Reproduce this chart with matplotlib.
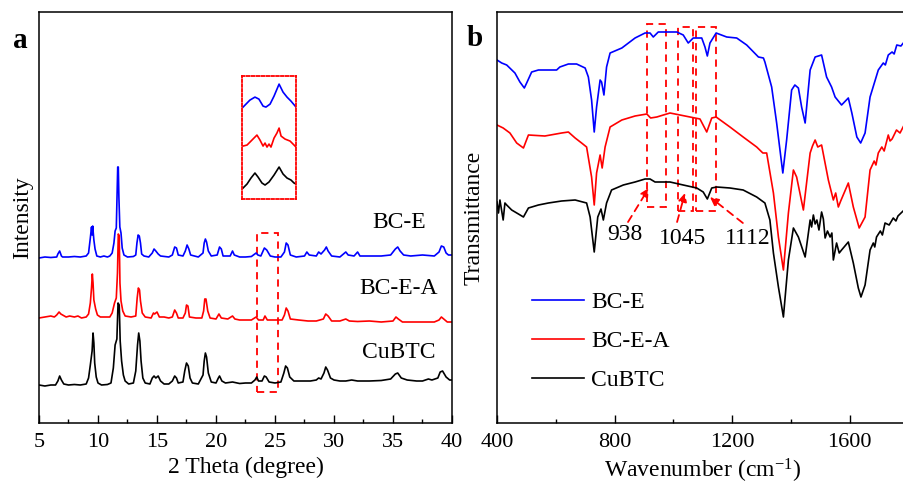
import numpy as np
import matplotlib
matplotlib.use("Agg")
import matplotlib.pyplot as plt
from matplotlib.patches import Rectangle

plt.rcParams["font.family"] = ["Liberation Serif", "DejaVu Serif"]
plt.rcParams["mathtext.fontset"] = "custom"
plt.rcParams["mathtext.rm"] = "Liberation Serif"

# ---------------- XRD patterns (2 theta in degrees, stacked intensity) ----------------
xrd_bce = [
    (5.0, 165), (5.5, 166), (6.0, 165.5), (6.5, 166), (6.6, 169), (6.75, 172), (6.9, 167),
    (7.0, 166), (7.5, 166), (8.0, 166.5), (8.5, 166), (9.0, 167), (9.2, 170), (9.35, 185),
    (9.45, 196), (9.5, 188), (9.55, 197), (9.65, 183), (9.75, 174), (9.9, 167), (10.2, 166),
    (10.5, 167), (10.8, 166), (11.0, 167), (11.2, 170), (11.35, 180), (11.45, 192),
    (11.55, 195), (11.62, 230), (11.67, 256), (11.72, 256), (11.77, 226), (11.85, 196),
    (11.95, 190), (12.05, 175), (12.2, 168), (12.5, 166), (13.0, 166.5), (13.2, 168),
    (13.3, 180), (13.4, 188), (13.5, 187), (13.6, 180), (13.7, 169), (13.9, 167), (14.3, 166),
    (14.6, 170), (14.75, 174), (14.9, 172), (15.1, 169), (15.3, 167), (16.0, 166), (16.3, 168),
    (16.5, 176), (16.65, 175), (16.8, 168), (17.2, 167), (17.4, 172), (17.55, 178), (17.7, 174),
    (17.85, 168), (18.5, 166), (18.9, 170), (19.0, 180), (19.1, 184), (19.2, 181), (19.35, 172),
    (19.6, 167), (20.1, 168), (20.3, 176), (20.45, 174), (20.6, 167), (21.2, 167), (21.4, 172),
    (21.55, 168), (22.0, 166), (22.5, 166), (23.0, 166.5), (23.4, 170), (23.55, 168), (23.8, 167),
    (24.1, 175), (24.3, 173), (24.6, 167), (25.0, 166), (25.5, 166), (25.8, 171), (25.95, 180),
    (26.1, 178), (26.3, 168), (26.8, 166), (27.5, 167), (27.7, 171), (27.9, 168), (28.5, 167),
    (28.7, 171), (28.9, 169), (29.2, 173), (29.35, 176), (29.5, 172), (29.8, 167), (30.5, 166),
    (31.0, 171), (31.2, 168), (31.7, 167), (32.0, 171), (32.2, 167), (33.0, 167), (34.0, 167),
    (34.8, 168), (35.2, 174), (35.4, 176), (35.6, 172), (35.9, 168), (36.5, 167), (37.5, 168),
    (38.5, 167), (38.9, 171), (39.1, 177), (39.3, 176), (39.5, 170), (39.7, 168), (40.0, 168),
]

xrd_bcea = [
    (5.0, 105), (5.5, 106), (6.0, 107), (6.3, 106), (6.5, 108), (6.7, 111), (6.85, 109),
    (7.0, 108), (7.3, 106), (7.6, 107), (8.0, 106), (8.3, 107), (8.6, 105), (9.0, 106),
    (9.2, 109), (9.35, 120), (9.45, 135), (9.52, 149), (9.58, 140), (9.65, 123), (9.8, 114),
    (9.95, 108), (10.2, 106), (10.6, 106), (11.0, 106), (11.2, 110), (11.4, 120), (11.55, 125),
    (11.65, 150), (11.72, 189), (11.8, 187), (11.86, 140), (11.95, 122), (12.1, 112), (12.3, 107),
    (12.8, 106), (13.2, 107), (13.32, 125), (13.42, 135), (13.52, 133), (13.6, 122), (13.75, 110),
    (14.0, 106), (14.5, 105), (14.7, 110), (14.8, 109), (15.0, 111), (15.2, 106), (15.6, 106),
    (16.0, 105), (16.3, 106), (16.5, 113), (16.65, 110), (16.8, 105), (17.2, 105), (17.4, 110),
    (17.5, 118), (17.62, 117), (17.75, 106), (18.3, 105), (18.8, 105), (18.95, 112), (19.05, 124),
    (19.15, 124), (19.3, 112), (19.5, 105), (20.0, 104), (20.25, 109), (20.45, 105), (21.0, 104),
    (21.4, 107), (21.6, 104), (22.0, 103), (22.6, 103), (23.0, 103), (23.4, 106), (23.6, 103),
    (24.0, 103), (24.15, 107), (24.35, 103), (25.0, 103), (25.6, 103), (25.8, 108), (25.95, 115),
    (26.1, 112), (26.3, 104), (27.0, 103), (27.8, 102), (28.5, 102), (29.1, 104), (29.3, 109),
    (29.5, 107), (29.8, 102), (30.5, 102), (31.0, 104), (31.3, 102), (32.0, 101.5), (33.0, 102),
    (34.0, 101), (35.0, 102), (35.25, 106), (35.45, 104), (35.8, 101), (36.5, 101), (37.5, 101),
    (38.5, 101), (38.9, 103), (39.1, 106), (39.3, 104), (39.6, 101), (40.0, 101),
]

xrd_cubtc = [
    (5.0, 38), (5.5, 37), (6.0, 38), (6.4, 38), (6.6, 42), (6.75, 47), (6.9, 43), (7.1, 39),
    (7.5, 38), (8.0, 38.5), (8.5, 38), (9.0, 39), (9.2, 45), (9.35, 58), (9.5, 72), (9.58, 90),
    (9.65, 80), (9.72, 60), (9.85, 46), (10.0, 40), (10.3, 38), (10.8, 38.5), (11.1, 40),
    (11.3, 55), (11.45, 78), (11.6, 84), (11.7, 120), (11.8, 118), (11.88, 82), (12.0, 62),
    (12.15, 48), (12.3, 42), (12.6, 39), (13.0, 40), (13.2, 52), (13.35, 78), (13.45, 90),
    (13.55, 82), (13.65, 62), (13.8, 45), (14.0, 40), (14.4, 39), (14.6, 45), (14.75, 47),
    (14.9, 45), (15.1, 47), (15.3, 42), (15.6, 39), (16.0, 39), (16.3, 42), (16.5, 47),
    (16.65, 45), (16.8, 40), (17.2, 41), (17.35, 52), (17.5, 60), (17.65, 57), (17.8, 45),
    (18.0, 40), (18.5, 39), (18.9, 48), (19.0, 62), (19.1, 70), (19.2, 66), (19.35, 50),
    (19.6, 41), (20.0, 40), (20.2, 45), (20.3, 47), (20.5, 42), (20.8, 40), (21.4, 41),
    (22.0, 39.5), (22.5, 40), (23.0, 40), (23.3, 43), (23.45, 46), (23.6, 42), (23.9, 42),
    (24.1, 47), (24.25, 46), (24.5, 41), (25.0, 40), (25.5, 41), (25.75, 50), (25.9, 57),
    (26.05, 55), (26.25, 46), (26.6, 42), (27.0, 42), (27.5, 42), (28.0, 42), (28.5, 43),
    (28.7, 45), (28.9, 44), (29.15, 50), (29.3, 56), (29.45, 53), (29.7, 45), (30.0, 43),
    (30.5, 42), (31.0, 42), (31.5, 43), (32.0, 42), (33.0, 42), (34.0, 42.5), (34.8, 44),
    (35.2, 49), (35.4, 50), (35.7, 45), (36.2, 43), (37.0, 42), (37.5, 42), (38.0, 44),
    (38.3, 43), (38.8, 45), (39.0, 51), (39.2, 52), (39.5, 46), (39.8, 43), (40.0, 43),
]

# magnified 23-26 degree region
zoom_bce = [(23.06, 92), (23.44, 99), (23.72, 102), (23.94, 100), (24.17, 93), (24.33, 92),
            (24.56, 95), (24.78, 103), (25.06, 115), (25.28, 107), (25.5, 102), (25.72, 98),
            (26.0, 92)]
zoom_bcea = [(23.06, 53), (23.28, 54), (23.5, 58), (23.83, 64), (24.0, 59), (24.17, 53),
             (24.28, 56), (24.39, 52), (24.5, 55), (24.61, 52), (24.78, 61), (24.94, 66),
             (25.06, 71), (25.17, 63), (25.39, 60), (25.67, 58), (26.0, 52)]
zoom_cubtc = [(23.06, 11), (23.28, 15), (23.5, 21), (23.72, 26), (23.89, 22), (24.11, 16),
              (24.28, 14), (24.5, 17), (24.78, 24), (25.06, 32), (25.28, 25), (25.5, 21),
              (25.72, 19), (25.89, 16), (26.0, 15)]

# ---------------- FTIR spectra (wavenumber in cm-1, stacked transmittance) ----------------
ir_bce = [
    (400, 363), (416, 360), (433, 358), (461, 350), (478, 341), (493, 335), (501, 340),
    (518, 351), (541, 353), (603, 353), (614, 356), (643, 359), (671, 359), (700, 355),
    (711, 346), (722, 323), (731, 291), (739, 316), (751, 343), (756, 341), (764, 328),
    (773, 356), (785, 370), (825, 375), (870, 385), (904, 390), (921, 390), (932, 386),
    (949, 391), (1012, 391), (1034, 388), (1051, 380), (1068, 385), (1097, 385), (1108, 376),
    (1116, 367), (1125, 380), (1146, 390), (1182, 386), (1216, 385), (1250, 378), (1290, 366),
    (1307, 365), (1312, 361), (1335, 336), (1352, 300), (1373, 250), (1386, 283), (1403, 333),
    (1414, 338), (1426, 335), (1437, 316), (1449, 300), (1466, 353), (1483, 366), (1505, 368),
    (1522, 346), (1539, 336), (1551, 326), (1562, 322), (1573, 318), (1596, 325), (1608, 310),
    (1625, 286), (1638, 280), (1653, 290), (1670, 326), (1698, 353), (1715, 360), (1722, 358),
    (1732, 368), (1745, 371), (1752, 369), (1761, 378), (1775, 377), (1786, 381), (1800, 383),
]

ir_bcea = [
    (400, 298), (421, 295), (444, 290), (467, 280), (490, 275), (507, 288), (563, 287),
    (620, 290), (643, 291), (666, 285), (688, 280), (705, 276), (722, 246), (731, 218),
    (739, 250), (751, 268), (758, 255), (768, 276), (785, 296), (825, 303), (870, 307),
    (910, 309), (923, 305), (944, 306), (989, 310), (1057, 306), (1091, 304), (1114, 291),
    (1131, 305), (1146, 306), (1193, 296), (1238, 286), (1284, 276), (1305, 270), (1318, 270),
    (1341, 230), (1358, 186), (1375, 153), (1392, 210), (1409, 253), (1420, 246), (1443, 213),
    (1466, 270), (1474, 277), (1483, 283), (1492, 276), (1505, 278), (1528, 243), (1545, 223),
    (1553, 230), (1562, 216), (1570, 222), (1596, 240), (1613, 216), (1633, 195), (1653, 206),
    (1670, 253), (1684, 262), (1690, 258), (1698, 270), (1710, 276), (1718, 272), (1732, 288),
    (1738, 282), (1745, 284), (1760, 293), (1772, 290), (1786, 298), (1800, 299),
]

ir_cubtc = [
    (400, 221), (405, 210), (410, 223), (421, 203), (427, 220), (433, 218), (450, 213),
    (473, 209), (490, 206), (507, 215), (541, 218), (575, 220), (620, 222), (666, 223),
    (705, 220), (717, 206), (731, 171), (743, 206), (754, 214), (762, 203), (773, 220),
    (790, 233), (830, 238), (870, 241), (904, 244), (921, 244), (938, 241), (989, 241),
    (1034, 238), (1080, 235), (1102, 231), (1116, 224), (1131, 235), (1148, 236), (1193, 235),
    (1238, 233), (1284, 226), (1312, 220), (1329, 203), (1341, 170), (1358, 136), (1375, 106),
    (1392, 163), (1409, 195), (1426, 186), (1449, 166), (1466, 203), (1471, 196), (1477, 208),
    (1483, 199), (1489, 203), (1496, 193), (1505, 211), (1511, 204), (1517, 185), (1525, 192),
    (1534, 186), (1540, 190), (1545, 163), (1556, 180), (1565, 170), (1573, 173), (1596, 181),
    (1613, 160), (1630, 135), (1639, 126), (1653, 138), (1670, 173), (1681, 180), (1686, 176),
    (1692, 186), (1705, 192), (1712, 188), (1721, 200), (1735, 198), (1749, 205), (1758, 202),
    (1765, 207), (1786, 213), (1800, 214),
]

series_names = ["BC-E", "BC-E-A", "CuBTC"]
series_colors = ["#0000ff", "#ff0000", "#000000"]
band_labels = ["938", "1045", "1112"]

W, H = 904, 484
fig = plt.figure(figsize=(W / 100, H / 100), dpi=100)

def px_axes(l, t, r, b):
    return fig.add_axes([l / W, 1 - b / H, (r - l) / W, (b - t) / H])

axa = px_axes(39, 12, 452, 423)
axb = px_axes(497, 12, 908.25, 423)

def style(ax):
    for s in ax.spines.values():
        s.set_linewidth(1.1)
    ax.tick_params(axis="x", which="major", direction="in", length=6, width=1.0,
                   labelsize=16, pad=7, top=False)
    ax.tick_params(axis="x", which="minor", direction="in", length=3, width=1.0, top=False)
    ax.set_yticks([])
    ax.set_ylim(0, 411)

# ---- panel a: XRD ----
style(axa)
for data, name, c in zip([xrd_bce, xrd_bcea, xrd_cubtc], series_names, series_colors):
    x, y = np.array(data).T
    axa.plot(x, y, color=c, lw=1.2)
axa.set_xlim(5, 40)
axa.set_xticks(np.arange(5, 41, 5))
axa.set_xticks(np.arange(7.5, 40, 5), minor=True)
axa.set_xlabel("2 Theta (degree)", fontsize=17, labelpad=4)
axa.set_ylabel("Intensity", fontsize=17, labelpad=4)

label_y = [200, 135, 70]
for name, ly in zip(series_names, label_y):
    axa.text(35.5, ly, name, fontsize=17, ha="center", va="center")

axa.add_patch(Rectangle((23.47, 31), 1.78, 159, fill=False, ec="red", lw=1.3,
                        ls=(0, (4, 3))))

ins = axa.inset_axes([0.4915, 0.545, 0.1308, 0.299])
for data, c in zip([zoom_bce, zoom_bcea, zoom_cubtc], series_colors):
    x, y = np.array(data).T
    ins.plot(x, y, color=c, lw=1.2)
ins.set_xlim(23.0, 26.0)
ins.set_ylim(0, 123)
ins.set_xticks([])
ins.set_yticks([])
ins.patch.set_alpha(0)
for s in ins.spines.values():
    s.set_edgecolor("red")
    s.set_linewidth(1.3)
    s.set_linestyle((0, (1.5, 1.2)))

fig.text(20 / W, 1 - 40 / H, "a", fontsize=21, fontweight="bold", ha="center", va="center")

# ---- panel b: FTIR ----
style(axb)
for data, name, c in zip([ir_bce, ir_bcea, ir_cubtc], series_names, series_colors):
    x, y = np.array(data).T
    axb.plot(x, y, color=c, lw=1.2, label=name)
axb.set_xlim(400, 1800)
axb.set_xticks([400, 800, 1200, 1600])
axb.set_xticks([600, 1000, 1400], minor=True)
axb.set_xlabel("Wavenumber (cm$\\mathregular{^{-1}}$)", fontsize=17, labelpad=4)
axb.set_ylabel("Transmittance", fontsize=17, labelpad=9)

boxes = [(910.6, 975.3, 216, 399), (1015, 1066, 212, 396), (1077.4, 1144.5, 212, 396)]
for x0, x1, y0, y1 in boxes:
    axb.add_patch(Rectangle((x0, y0), x1 - x0, y1 - y0, fill=False, ec="red", lw=1.3,
                            ls=(0, (4, 3))))

text_pos = [(836, 188), (1033, 185), (1254, 184)]
arrow_tail = [(846, 201), (1013, 201), (1237, 200)]
arrow_head = [(917, 235), (1040, 230), (1125, 226)]
for lab, tp, tail, head in zip(band_labels, text_pos, arrow_tail, arrow_head):
    axb.text(tp[0], tp[1], lab, fontsize=17, ha="center", va="center")
    axb.annotate("", xy=head, xytext=tail,
                 arrowprops=dict(arrowstyle="-|>,head_length=0.5,head_width=0.25",
                                 color="red", lw=1.3, ls=(0, (4, 3)),
                                 shrinkA=0, shrinkB=0))

axb.legend(loc="upper left", bbox_to_anchor=(0.085, 0.32), frameon=False, fontsize=17,
           handlelength=2.2, handletextpad=0.3, labelspacing=0.75, borderpad=0,
           borderaxespad=0)

fig.text(475 / W, 1 - 38 / H, "b", fontsize=21, fontweight="bold", ha="center", va="center")

fig.savefig("out.png", dpi=100)
